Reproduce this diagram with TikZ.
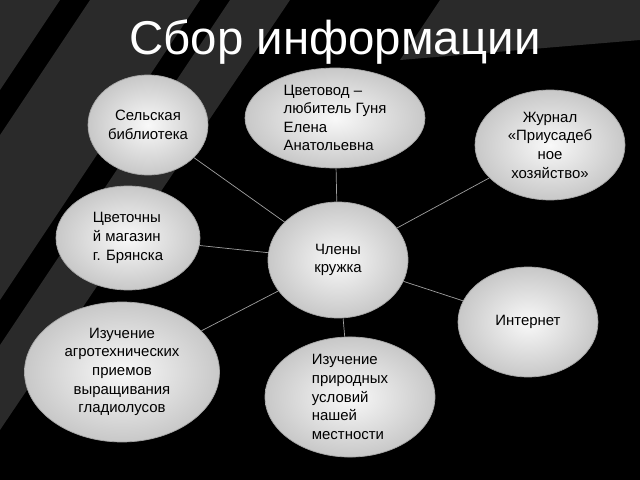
\documentclass[tikz,border=0pt]{standalone}
\usepackage{fontspec}
\setmainfont{Liberation Sans}
\usetikzlibrary{shapes.geometric}
\definecolor{BandGray}{HTML}{2A2A2A}
\definecolor{BallGray}{HTML}{C8C8C8}

\begin{document}
\begin{tikzpicture}[
      x=0.02cm, y=-0.02cm,
      every node/.style={font=\fontsize{8.5}{10.6}\selectfont},
      ball/.style={ellipse, draw=gray!70, inner color=white!95!gray, outer color=BallGray, inner sep=0pt},
      link/.style={draw=gray!75, thin}
    ]
      % background
      \fill[black] (0,0) rectangle (640,480);
      \fill[BandGray] (0,0) -- (60,0) -- (0,90) -- cycle;
      \fill[BandGray] (90,0) -- (200,0) -- (0,300) -- (0,135) -- cycle;
      \fill[BandGray] (230,0) -- (290,0) -- (0,430) -- (0,345) -- cycle;
      \fill[BandGray] (440,0) -- (640,0) -- (640,40) -- (400,60) -- cycle;
      \node[text=white, font=\fontsize{27}{30}\selectfont] (title) at (335,42) {Сбор информации};
      % centre
      \node[ball, minimum width=2.8cm, minimum height=2.32cm, align=center] (club) at (338,260) {Члены\\кружка};
      % sources
      \node[ball, minimum width=2.4cm, minimum height=2cm, align=center] (library) at (148,125) {Сельская\\библиотека};
      \node[ball, minimum width=3.6cm, minimum height=2cm, align=left] (grower) at (335,118) {Цветовод –\\любитель Гуня\\Елена\\Анатольевна};
      \node[ball, minimum width=3cm, minimum height=2.2cm, align=center] (journal) at (550,145) {Журнал\\«Приусадеб\\ное\\хозяйство»};
      \node[ball, minimum width=2.88cm, minimum height=2.08cm, align=left] (shop) at (128,238) {Цветочны\\й магазин\\г. Брянска};
      \node[ball, minimum width=2.8cm, minimum height=2.2cm] (internet) at (528,322) {Интернет};
      \node[ball, minimum width=3.9cm, minimum height=2.8cm, align=center] (agro) at (122,372) {Изучение\\агротехнических\\приемов\\выращивания\\гладиолусов};
      \node[ball, minimum width=3.4cm, minimum height=2.4cm, align=left] (nature) at (350,397) {Изучение\\природных\\условий\\нашей\\местности};
      % links
      \foreach \n in {library, grower, journal, shop, internet, agro, nature}
        \draw[link] (club) -- (\n);
    \end{tikzpicture}
\end{document}
